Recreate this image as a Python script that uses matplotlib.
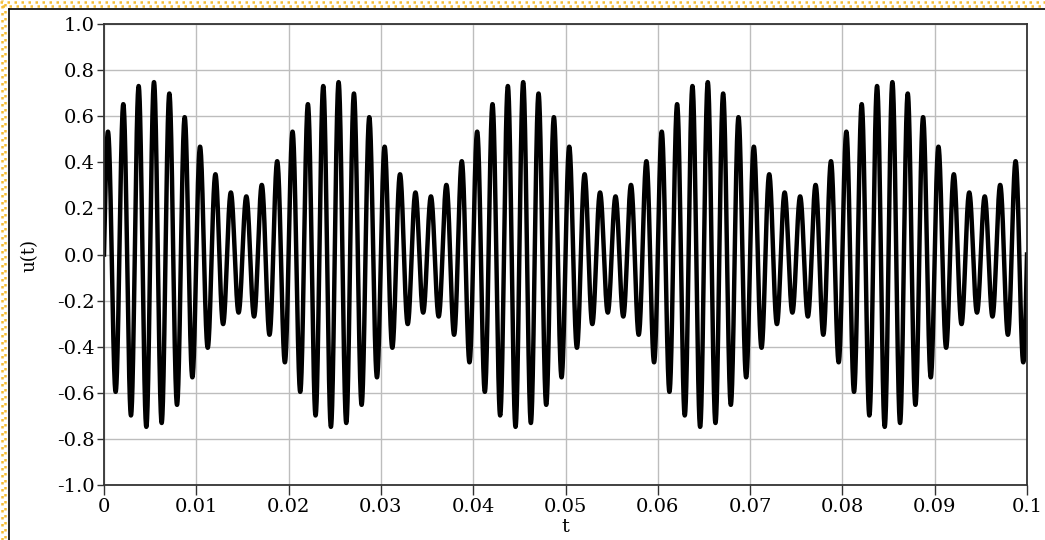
# -*- coding: utf-8 -*-
import numpy as np
import matplotlib.pyplot as plt
from matplotlib.lines import Line2D

plt.rcParams['font.family'] = ['DejaVu Serif']

# 信号参数：载波600Hz，包络50Hz，包络 0.5 ± 0.25
carrier_freq = 600
mod_freq = 50
base_amp = 0.5
mod_amp = 0.25
t_range = [0, 0.1]

x_ticks = [0, 0.01, 0.02, 0.03, 0.04, 0.05, 0.06, 0.07, 0.08, 0.09, 0.1]
x_labels = ['0', '0.01', '0.02', '0.03', '0.04', '0.05', '0.06', '0.07', '0.08', '0.09', '0.1']
y_ticks = [-1.0, -0.8, -0.6, -0.4, -0.2, 0.0, 0.2, 0.4, 0.6, 0.8, 1.0]
y_labels = ['-1.0', '-0.8', '-0.6', '-0.4', '-0.2', '0.0', '0.2', '0.4', '0.6', '0.8', '1.0']

t = np.linspace(t_range[0], t_range[1], 6001)
u = (base_amp + mod_amp * np.sin(2 * np.pi * mod_freq * t)) * np.sin(2 * np.pi * carrier_freq * t)

W, H = 1045, 540
fig = plt.figure(figsize=(W / 100, H / 100), dpi=100)
ax = fig.add_axes([104 / W, 1 - 485 / H, (1027 - 104) / W, (485 - 24) / H])

ax.plot(t, u, color='black', linewidth=3.2, solid_joinstyle='round')

ax.set_xlim(t_range)
ax.set_ylim(-1.0, 1.0)
ax.set_xticks(x_ticks)
ax.set_xticklabels(x_labels)
ax.set_yticks(y_ticks)
ax.set_yticklabels(y_labels)
ax.tick_params(direction='out', length=5, width=1.0, labelsize=14, pad=2, color='#333333')
ax.tick_params(axis='x', length=7, pad=2)
ax.grid(True, color='#bdbdbd', linewidth=1.0)
ax.set_axisbelow(True)
for s in ax.spines.values():
    s.set_color('#333333')
    s.set_linewidth(1.3)

# 坐标轴标题
fig.text(565 / W, 1 - 527 / H, 't', fontsize=14, ha='center', va='center')
fig.text(30 / W, 1 - 255 / H, 'u(t)', rotation=90, fontsize=13, ha='center', va='center')

# 边框：黄色点状边 + 黑线
for off, x in [(0, 1.5), (2, 5.0)]:
    fig.add_artist(Line2D([x / W, x / W], [0, 1], transform=fig.transFigure,
                          color='#f5bd35', linewidth=1.8, linestyle=(off, (1, 1.8))))
for off, y in [(0, 1.5), (2, 5.5)]:
    fig.add_artist(Line2D([0, 1], [1 - y / H, 1 - y / H], transform=fig.transFigure,
                          color='#f5bd35', linewidth=1.8, linestyle=(off, (1, 1.8))))
fig.add_artist(Line2D([8.5 / W, 8.5 / W], [0, 1 - 9 / H], transform=fig.transFigure,
                      color='black', linewidth=1.2))
fig.add_artist(Line2D([8.5 / W, 1], [1 - 9 / H, 1 - 9 / H], transform=fig.transFigure,
                      color='black', linewidth=1.2))

fig.savefig('out.png', dpi=100)
